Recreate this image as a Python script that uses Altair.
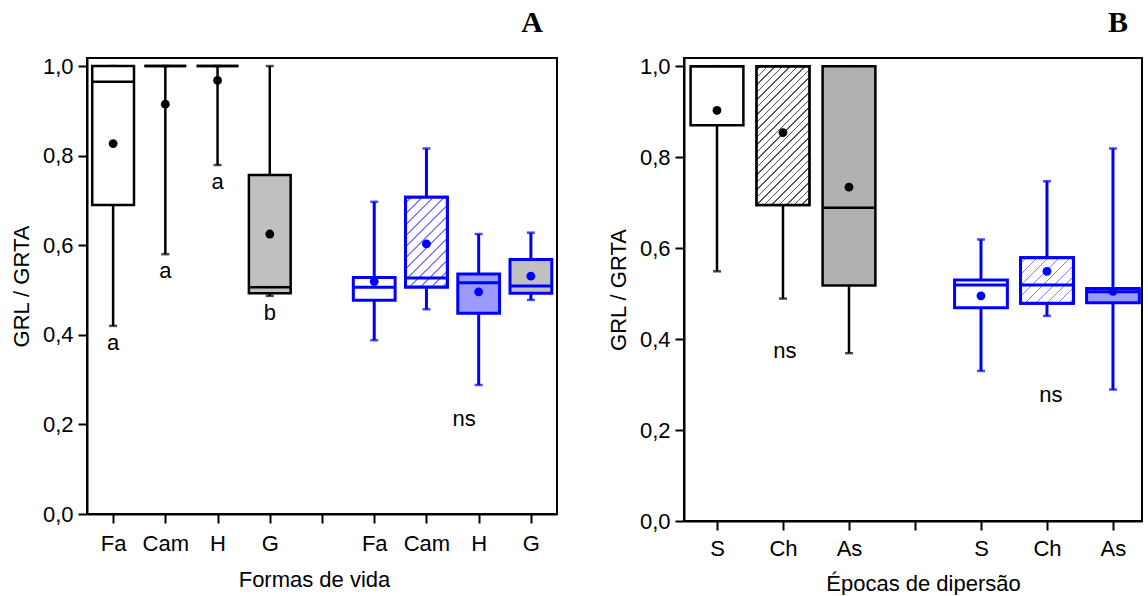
import json
import altair as alt
import pandas as pd

# ---------------- Panel A: life forms ----------------
forms = ["Fa", "Cam", "H", "G"]

a_black_lo = [0.420, 0.580, 0.779, 0.487]
a_black_q1 = [0.690, 1.000, 1.000, 0.493]
a_black_med = [0.965, 1.000, 1.000, 0.506]
a_black_q3 = [1.000, 1.000, 1.000, 0.757]
a_black_hi = [1.000, 1.000, 1.000, 1.000]
a_black_mean = [0.827, 0.915, 0.968, 0.625]
a_black_fill = ["plain", "plain", "plain", "gray"]
a_letters = ["a", "a", "a", "b"]

a_blue_lo = [0.388, 0.457, 0.288, 0.478]
a_blue_q1 = [0.477, 0.507, 0.448, 0.493]
a_blue_med = [0.506, 0.527, 0.516, 0.509]
a_blue_q3 = [0.528, 0.707, 0.536, 0.568]
a_blue_hi = [0.697, 0.816, 0.625, 0.628]
a_blue_mean = [0.519, 0.603, 0.496, 0.531]
a_blue_fill = ["plain", "hatch", "stipple", "gray"]

a_note_text = ["ns"]
a_note_x = [7.72]
a_note_y = [0.213]

# ---------------- Panel B: dispersal seasons ----------------
seasons = ["S", "Ch", "As"]

b_black_lo = [0.549, 0.489, 0.369]
b_black_q1 = [0.870, 0.695, 0.518]
b_black_med = [1.000, 1.000, 0.689]
b_black_q3 = [1.000, 1.000, 1.000]
b_black_hi = [1.000, 1.000, 1.000]
b_black_mean = [0.903, 0.854, 0.734]
b_black_fill = ["plain", "hatch", "stipple"]

b_blue_lo = [0.330, 0.451, 0.289]
b_blue_q1 = [0.469, 0.479, 0.480]
b_blue_med = [0.519, 0.519, 0.504]
b_blue_q3 = [0.530, 0.579, 0.511]
b_blue_hi = [0.619, 0.747, 0.819]
b_blue_mean = [0.495, 0.549, 0.505]
b_blue_fill = ["plain", "hatch", "stipple"]

b_note_text = ["ns", "ns"]
b_note_x = [2.03, 6.06]
b_note_y = [0.374, 0.278]

# ---------------- styling ----------------
FONT = "Liberation Sans"
INK = {"black": "#000000", "blue": "#0000ff"}
LINE_W = {"black": 2.5, "blue": 3.0}
STIPPLE = {"black": "#b0b0b0", "blue": "#9a9aff"}
HATCH_INK = {"black": "#555555", "blue": "#8080ff"}
HATCH_GAP = {"black": 7.5, "blue": 11.0}
GRAY = "#c0c0c0"
BOX_HALF = 0.4  # half box width, in category slots
YMAX = 1.018


def hatch_gradient(w_px, h_px, gap, ink):
    """Diagonal '/' stripes drawn as a hard-stop linear gradient over the box."""
    span = w_px + h_px
    k = span / (w_px * w_px + h_px * h_px)
    stops = [{"offset": 0, "color": "white"}]
    lw = 1.4
    pos = gap / 2
    while pos < span:
        a = max((pos - lw / 2) / span, 0)
        b = min((pos + lw / 2) / span, 1)
        stops += [
            {"offset": a, "color": "white"},
            {"offset": a, "color": ink},
            {"offset": b, "color": ink},
            {"offset": b, "color": "white"},
        ]
        pos += gap
    stops.append({"offset": 1, "color": "white"})
    return {"gradient": "linear", "x1": 0, "y1": 0, "x2": k * w_px, "y2": k * h_px, "stops": stops}


def build_table(cats, groups):
    rows = []
    n = len(cats)
    for gi, (grp, lo, q1, med, q3, hi, mean, fill, letters) in enumerate(groups):
        for i in range(n):
            slot = gi * (n + 1) + i + 1
            kind = fill[i]
            base = {"plain": "white", "hatch": "white", "gray": GRAY, "stipple": STIPPLE[grp]}[kind]
            rows.append({
                "slot": slot, "grp": grp, "lo": lo[i], "q1": q1[i], "med": med[i],
                "q3": q3[i], "hi": hi[i], "mean": mean[i], "kind": kind,
                "base": base, "col": INK[grp], "sw": LINE_W[grp],
                "letter": letters[i] if letters else "",
            })
    return pd.DataFrame(rows)


def panel(cats, groups, width, height, xmax, notes, letter, xtitle, xtitle_x, xtitle_y, lab_pad):
    df = build_table(cats, groups)
    n = len(cats)
    names = [""] + cats + [""] + cats
    label_expr = json.dumps(names) + "[datum.value]"

    xs = alt.Scale(domain=[0.5, xmax], nice=False, zero=False)
    ys = alt.Scale(domain=[0, YMAX], nice=False, zero=False)
    x_axis = alt.Axis(values=list(range(1, 2 * n + 2)), labelExpr=label_expr, title=xtitle,
                      titleX=xtitle_x, titleY=xtitle_y, titleBaseline="alphabetic",
                      labelPadding=lab_pad)
    y_axis = alt.Axis(values=[0, 0.2, 0.4, 0.6, 0.8, 1.0],
                      labelExpr="replace(format(datum.value, '.1f'), '.', ',')",
                      title="GRL / GRTA", titleX=-66, titleY=height / 2,
                      titleBaseline="middle")

    base = alt.Chart(df).transform_calculate(
        xl=f"datum.slot - {BOX_HALF}", xr=f"datum.slot + {BOX_HALF}"
    )
    X = alt.X("slot:Q", scale=xs, axis=x_axis)
    col = alt.Color("col:N", scale=None)
    sw = alt.StrokeWidth("sw:Q", scale=None)

    lower = base.mark_rule().encode(
        x=X, y=alt.Y("lo:Q", scale=ys, axis=y_axis), y2="q1:Q", color=col, strokeWidth=sw)
    upper = base.mark_rule().encode(x="slot:Q", y="q3:Q", y2="hi:Q", color=col, strokeWidth=sw)
    cap_lo = base.mark_tick(orient="horizontal", size=8, thickness=2.5).encode(
        x="slot:Q", y="lo:Q", color=col)
    cap_hi = base.mark_tick(orient="horizontal", size=8, thickness=2.5).encode(
        x="slot:Q", y="hi:Q", color=col)
    box = base.mark_rect().encode(
        x="xl:Q", x2="xr:Q", y="q1:Q", y2="q3:Q",
        fill=alt.Fill("base:N", scale=None), stroke=alt.Stroke("col:N", scale=None),
        strokeWidth=sw)

    layers = [lower, upper, cap_lo, cap_hi, box]

    # hatched boxes get their own striped fill
    px_x = width / (xmax - 0.5)
    px_y = height / YMAX
    for _, r in df[df["kind"] == "hatch"].iterrows():
        w_px = 2 * BOX_HALF * px_x
        h_px = (r["q3"] - r["q1"]) * px_y
        grad = hatch_gradient(w_px, h_px, HATCH_GAP[r["grp"]], HATCH_INK[r["grp"]])
        layers.append(
            base.transform_filter(f"datum.slot == {int(r['slot'])}")
            .mark_rect(fill=grad, stroke=r["col"], strokeWidth=r["sw"])
            .encode(x="xl:Q", x2="xr:Q", y="q1:Q", y2="q3:Q")
        )

    median = base.mark_rule().encode(x="xl:Q", x2="xr:Q", y="med:Q", color=col, strokeWidth=sw)
    means = base.mark_point(filled=True, opacity=1, size=78).encode(
        x="slot:Q", y="mean:Q", color=col)
    letters = base.transform_filter("datum.letter != ''").mark_text(
        font=FONT, fontSize=22, color="black", baseline="middle", dy=17
    ).encode(x="slot:Q", y="lo:Q", text="letter:N")
    layers += [median, means, letters]

    nt, nx, ny = notes
    note_df = pd.DataFrame({"t": nt, "x": nx, "y": ny})
    layers.append(
        alt.Chart(note_df).mark_text(font=FONT, fontSize=22, color="black", baseline="middle")
        .encode(x="x:Q", y="y:Q", text="t:N")
    )

    return alt.layer(*layers).properties(
        width=width, height=height,
        title=alt.TitleParams(letter, anchor="end", frame="group", font="Liberation Serif",
                              fontSize=30, fontWeight="bold", color="black",
                              baseline="alphabetic", offset=-7, dx=-14),
    )


chart_a = panel(
    forms,
    [("black", a_black_lo, a_black_q1, a_black_med, a_black_q3, a_black_hi, a_black_mean, a_black_fill, a_letters),
     ("blue", a_blue_lo, a_blue_q1, a_blue_med, a_blue_q3, a_blue_hi, a_blue_mean, a_blue_fill, None)],
    width=470, height=456, xmax=9.5,
    notes=(a_note_text, a_note_x, a_note_y), letter="A",
    xtitle="Formas de vida", xtitle_x=227, xtitle_y=72, lab_pad=10,
)

chart_b = panel(
    seasons,
    [("black", b_black_lo, b_black_q1, b_black_med, b_black_q3, b_black_hi, b_black_mean, b_black_fill, None),
     ("blue", b_blue_lo, b_blue_q1, b_blue_med, b_blue_q3, b_blue_hi, b_blue_mean, b_blue_fill, None)],
    width=458, height=463, xmax=7.44,
    notes=(b_note_text, b_note_x, b_note_y), letter="B",
    xtitle="Épocas de dipersão", xtitle_x=239, xtitle_y=69, lab_pad=8,
)

chart = alt.hconcat(chart_a, chart_b, spacing=127, bounds="flush").properties(
    padding={"left": 9, "top": 7, "right": 0, "bottom": 0},
    background="white",
).configure_view(
    stroke="black", strokeWidth=2
).configure_axis(
    grid=False, domainColor="black", domainWidth=2, tickColor="black", tickWidth=2,
    tickSize=9, labelPadding=5, labelFont=FONT, labelFontSize=22, labelColor="black",
    titleFont=FONT, titleFontSize=22, titleFontWeight="normal", titleColor="black",
)

chart.save("out.html", embed_options={"renderer": "svg", "actions": False})
